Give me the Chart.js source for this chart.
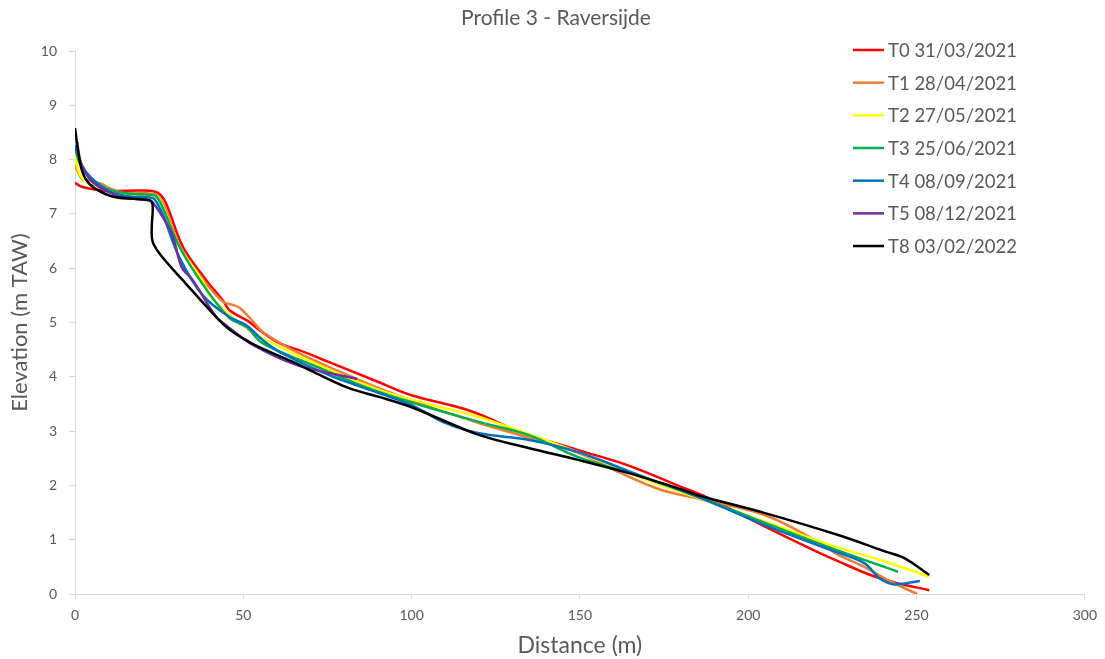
<!DOCTYPE html>
<html><head><meta charset="utf-8">
<script src="https://cdn.jsdelivr.net/npm/chart.js@4"></script>
<style>html,body{margin:0;padding:0;background:#fff}#wrap{width:1105px;height:659px;position:relative}</style>
</head><body><div id="wrap"><canvas id="c"></canvas></div>
<script>
const chartTitle = 'Profile 3 - Raversijde';
const xTitle = 'Distance (m)';
const yTitle = 'Elevation (m TAW)';
const seriesLabels = ['T0 31/03/2021','T1 28/04/2021','T2 27/05/2021','T3 25/06/2021','T4 08/09/2021','T5 08/12/2021','T8 03/02/2022'];
const seriesColors = ['#FF0000','#ED7D31','#FFFF00','#00B050','#0070C0','#7030A0','#000000'];

const t0Dist = [0,2,5,10,20,24.5,27,32,39,44,46,51.5,54.8,60.7,66.6,75.5,90.3,100,115,122.9,131.8,149.5,164.3,179,188,205,219.7,226.5,236.3,244.3,253.8];
const t0Elev = [7.57,7.5,7.46,7.42,7.43,7.39,7.2,6.4,5.78,5.4,5.22,5.02,4.86,4.62,4.49,4.27,3.9,3.66,3.42,3.24,2.99,2.65,2.37,2.0,1.77,1.24,0.8,0.61,0.35,0.2,0.07];

const t1Dist = [0,1.5,2.5,5,8,10,15,20,24,26.5,31.5,38.5,44,46.5,48.9,53.3,55.7,65.7,90.3,105,120,134.7,149.5,161.4,174,185,205,219.7,226.5,234.5,241.3,250.2];
const t1Elev = [7.9,7.7,7.62,7.6,7.55,7.48,7.38,7.38,7.35,7.15,6.35,5.75,5.38,5.33,5.27,4.99,4.83,4.46,3.79,3.45,3.15,2.88,2.6,2.25,1.92,1.76,1.45,1.0,0.73,0.5,0.26,0.0];

const t2Dist = [0,1,3,6,10,15,18,24,26,31,38,40,45.9,51.8,55.7,70.5,90.3,105,120,149.5,170,185,205,224.5,239,253.8];
const t2Elev = [8.08,7.8,7.6,7.55,7.45,7.35,7.33,7.33,7.15,6.4,5.75,5.5,5.14,4.86,4.71,4.27,3.76,3.5,3.26,2.61,2.1,1.77,1.33,0.9,0.63,0.32];

const t3Dist = [0,2,5,10,15,22,24,26,31,38,45.9,50.9,55.7,70.5,90.3,120,134.7,149.5,170,185,205,224.5,244.5];
const t3Elev = [8.2,7.85,7.65,7.45,7.38,7.35,7.33,7.12,6.4,5.7,5.08,4.92,4.62,4.22,3.72,3.17,2.93,2.52,2.13,1.79,1.31,0.85,0.41];

const t4Dist = [0,2,5,10,15,22,23.5,26,31,38,45.9,50.9,55.7,60.7,75.5,90.3,100,110,120,134.7,149.5,170,185,205,224.5,234.5,239,243,247,251];
const t4Elev = [8.27,7.9,7.65,7.42,7.33,7.3,7.28,7.0,6.2,5.5,5.1,4.95,4.68,4.46,4.03,3.7,3.48,3.15,2.96,2.84,2.61,2.13,1.79,1.27,0.81,0.57,0.29,0.18,0.2,0.24];

const t5Dist = [0.5,2,5,10,15,22,23,26,29,31.7,35,42,45.9,52.7,65.7,83.8];
const t5Elev = [8.35,7.9,7.6,7.4,7.3,7.25,7.22,6.95,6.6,6.02,5.78,5.1,4.9,4.59,4.22,3.96];

const t8Dist = [0,1.5,3,5.9,11.8,21.3,22.8,23.1,22.8,23.1,26,32,40.9,45.9,51.8,55.7,66.6,70.5,81.4,90.3,100,120,134.7,149.5,164.3,179,185,205,226.5,241.3,246.4,253.8];
const t8Elev = [8.58,7.94,7.66,7.47,7.31,7.26,7.22,7.07,6.76,6.48,6.2,5.78,5.17,4.87,4.64,4.52,4.22,4.1,3.79,3.63,3.44,2.93,2.69,2.47,2.23,1.95,1.82,1.49,1.09,0.77,0.66,0.35];

const xMin = 0, xMax = 300, xStep = 50;
const yMin = 0, yMax = 10, yStep = 1;

const seriesDist = [t0Dist,t1Dist,t2Dist,t3Dist,t4Dist,t5Dist,t8Dist];
const seriesElev = [t0Elev,t1Elev,t2Elev,t3Elev,t4Elev,t5Elev,t8Elev];

const textColor = '#595959';
const axisColor = '#d9d9d9';
const fam = 'Lato, "Open Sans", sans-serif';

const datasets = seriesLabels.map((lab, i) => ({
  label: lab,
  data: seriesDist[i].map((d, k) => ({x: d, y: seriesElev[i][k]})),
  borderColor: seriesColors[i],
  backgroundColor: seriesColors[i],
  borderWidth: 2.5,
  pointRadius: 0,
  fill: false,
  tension: 0.35,
  order: seriesLabels.length - 1 - i
}));

const sideLegend = {
  id: 'sideLegend',
  afterDraw(chart) {
    const ctx = chart.ctx;
    ctx.save();
    chart.data.datasets.forEach((ds, i) => {
      const y = 50 + i * 32.67;
      ctx.strokeStyle = ds.borderColor;
      ctx.lineWidth = 2.5;
      ctx.beginPath();
      ctx.moveTo(853, y);
      ctx.lineTo(884, y);
      ctx.stroke();
      ctx.fillStyle = textColor;
      ctx.font = '18.5px ' + fam;
      ctx.textBaseline = 'middle';
      ctx.textAlign = 'left';
      ctx.fillText(ds.label, 888, y + 1);
    });
    ctx.restore();
  }
};

new Chart(document.getElementById('c'), {
  type: 'line',
  data: { datasets },
  plugins: [sideLegend],
  options: {
    responsive: true,
    maintainAspectRatio: false,
    animation: false,
    layout: { padding: { left: 24, right: 17, top: 0, bottom: 0 } },
    plugins: {
      legend: { display: false },
      tooltip: { enabled: false },
      title: {
        display: true, text: chartTitle, color: textColor,
        font: { family: fam, size: 21, weight: 'normal' },
        padding: { top: 5.4, bottom: 20.4 }
      }
    },
    scales: {
      x: {
        type: 'linear', min: xMin, max: xMax,
        ticks: { stepSize: xStep, color: textColor, font: { family: fam, size: 14 }, padding: 8, maxRotation: 0 },
        grid: { drawOnChartArea: false, drawTicks: true, tickLength: 5, color: axisColor },
        border: { display: true, color: axisColor, width: 1 },
        title: { display: true, text: xTitle, color: textColor, font: { family: fam, size: 23 }, padding: { top: 0, bottom: 0 } },
        afterFit(s) { s.height = 65; }
      },
      y: {
        type: 'linear', min: yMin, max: yMax,
        ticks: { stepSize: yStep, color: textColor, font: { family: fam, size: 14 }, padding: 12 },
        grid: { drawOnChartArea: false, drawTicks: true, tickLength: 6, color: axisColor },
        border: { display: true, color: axisColor, width: 1 },
        title: { display: true, text: yTitle, color: textColor, font: { family: fam, size: 22 }, padding: { top: -17.2, bottom: 0 } },
        afterFit(s) { s.width = 51; }
      }
    }
  }
});
</script>
</body></html>
